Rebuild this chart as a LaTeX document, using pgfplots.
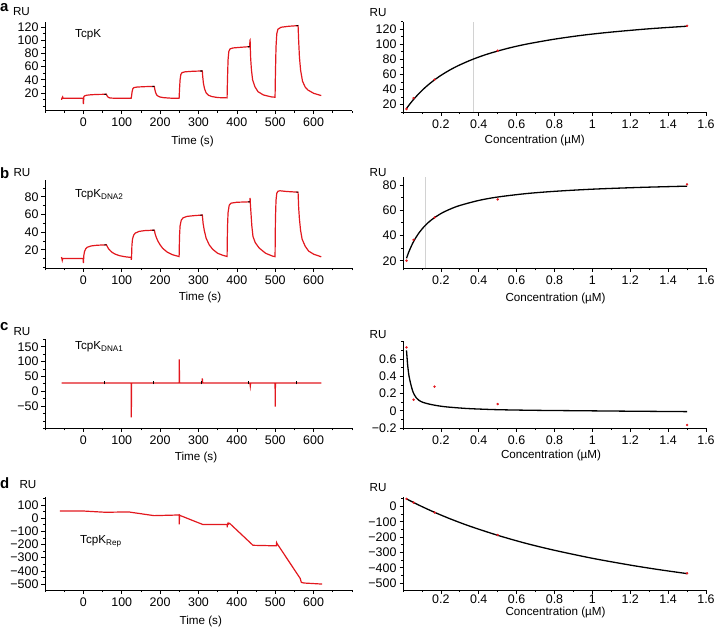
\documentclass[border=0pt]{standalone}
\usepackage{fontspec}
\setmainfont{Liberation Sans}
\usepackage{pgfplots}
\pgfplotsset{compat=1.18}
\definecolor{trace}{RGB}{226,24,30}
\pgfplotsset{
  base/.style={scale only axis, anchor=south west,
    axis x line=bottom, axis y line=left,
    axis line style={-, line width=0.8bp, black},
    tick align=outside, major tick length=3.5bp, minor tick length=2bp,
    every tick/.style={black, line width=0.7bp},
    ticklabel style={font=\fontsize{12.5}{14}\selectfont},
    yticklabel style={xshift=0.5bp},
    xticklabel style={yshift=-0.5bp}},
  Lpanel/.style={base, width=307bp, xmin=-100, xmax=700,
    xtick={0,100,200,300,400,500,600}, xticklabels={0,100,200,300,400,500,600},
    minor xtick={-100,-50,50,150,250,350,450,550,650,700}},
  Rpanel/.style={base, width=303bp, xmin=0, xmax=1.6,
    xtick={0.2,0.4,0.6,0.8,1.0,1.2,1.4,1.6}, xticklabels={0.2,0.4,0.6,0.8,1,1.2,1.4,1.6},
    minor xtick={0,0.1,0.3,0.5,0.7,0.9,1.1,1.3,1.5}},
  tr/.style={trace, line width=1.2bp},
  fit/.style={black, line width=1.3bp, smooth},
  pts/.style={only marks, mark=*, mark size=1bp, trace},
  bk/.style={black, line width=1.1bp, forget plot},
}
\begin{document}
\begin{tikzpicture}
\path[use as bounding box] (0,0) rectangle (716bp,-627bp);
% ---------------- a left
\begin{axis}[Lpanel, at={(45bp,-110.7bp)}, height=88.7bp, ymin=-7, ymax=128,
  ytick={20,40,60,80,100,120}, yticklabels={20,40,60,80,100,120},
  minor ytick={0,10,30,50,70,90,110}]
\addplot[tr] coordinates {(-57,9.5)(-56,12)(-54,14)(-53,12)(-50,11.8)(-20,11.8)(-0.5,11.8)(0,3)(0.5,5)(1,14)(3,15.5)(8,16.5)(20,17.3)(40,17.8)(60,18)
(61,16.5)(63,14.5)(66,13)(70,12.3)(80,12)(100,11.8)(124.5,11.8)
(125.5,15)(127,22)(129,26.5)(132,28.2)(140,29)(160,29.6)(185,30)
(186,26)(188,21)(191,17)(195,15)(200,13.8)(210,12.8)(230,12)(249.5,11.8)
(250.5,25)(252,40)(254,48)(257,51)(265,52.2)(285,53)(310,53.5)
(311,45)(313,34)(316,26)(320,20)(326,16.5)(335,14.5)(350,13)(374.5,12.5)
(375.5,40)(377,70)(379,83)(382,87)(390,88.5)(410,89.5)(433.5,90.5)(434,100)(434.5,100.5)(435,88)
(436,72)(438,55)(441,40)(447,29.5)(455,22)(469,17)(490,14)(499.5,13.5)
(500.5,50)(502,90)(504,110)(507,117)(515,120)(535,121.5)(559.5,122.5)
(561,100)(563,75)(566,55)(571,38)(578,29)(585,24.5)(600,19.5)(620,16)};
\addplot[bk] coordinates {(55,17.9)(60,18)};
\addplot[bk] coordinates {(180,29.9)(185,30)};
\addplot[bk] coordinates {(305,53.4)(310,53.5)};
\addplot[bk] coordinates {(429,90.3)(433.5,90.5)};
\addplot[bk] coordinates {(555,122.4)(559.5,122.5)};
\end{axis}
% ---------------- a right
\begin{axis}[Rpanel, at={(403bp,-112bp)}, height=90.3bp, ymin=10, ymax=130,
  ytick={20,40,60,80,100,120}, yticklabels={20,40,60,80,100,120},
  minor ytick={10,30,50,70,90,110,130}]
\addplot[gray!35, line width=0.9bp] coordinates {(0.37,10)(0.37,130)};
\addplot[fit] coordinates {(0.0185,14.6)(0.03,18.6)(0.05,25.0)(0.075,32.1)(0.1,38.6)(0.13,45.4)(0.16,51.5)(0.2,58.6)(0.25,66.2)(0.3,72.6)(0.37,80.2)(0.45,87.3)(0.55,94.4)(0.65,100.1)(0.8,106.8)(0.95,112.1)(1.1,116.2)(1.3,120.6)(1.5,124.0)};
\addplot[pts] coordinates {(0.0185,14)(0.0556,28.5)(0.1667,53)(0.5,91.5)(1.5,124.5)};
\end{axis}
% ---------------- b left
\begin{axis}[Lpanel, at={(45bp,-268.3bp)}, height=88.3bp, ymin=-1, ymax=99,
  ytick={20,40,60,80}, yticklabels={20,40,60,80},
  minor ytick={0,10,30,50,70,90}]
\addplot[tr] coordinates {(-57,11.8)(-55,8)(-54,10)(-30,10)(-0.5,10)(0,5)(0.5,7)(1,13)(3,18)(6,21)(10,22.8)(20,24.3)(35,25.1)(60,25.6)
(62,24)(65,21.5)(70,19)(75,17)(83,15)(95,13.2)(110,12)(124.5,11.3)(125,8.7)(125.5,11)
(126.5,25)(128,32)(131,36.5)(135,38.8)(145,40.8)(160,41.7)(185,42.2)
(187,38)(190,34)(194,30)(200,25.5)(207,21.5)(218,17.5)(232,14.4)(249.5,12.3)
(250.5,35)(252,47)(255,53.5)(260,56.2)(270,57.8)(290,58.7)(310,59.3)
(312,50)(315,42)(320,33)(328,25.5)(337,20.5)(350,16)(363,13.8)(374.5,12.4)
(375.5,45)(377,62)(380,70.5)(385,72.8)(400,73.8)(434,74.3)(434.5,78.8)(435,73)
(437,60)(439,47)(442,35)(448,28)(458,22)(475,16)(493,12.8)(499.5,12.2)
(500.5,55)(502,76)(504,84)(507,86.2)(512,86.8)(530,86)(559.5,85.2)
(561,68)(563,55)(566,42)(570,32)(578,24)(587,18.5)(600,15)(620,12)};
\addplot[bk] coordinates {(55,25.5)(60,25.6)};
\addplot[bk] coordinates {(180,42.1)(185,42.2)};
\addplot[bk] coordinates {(305,59.2)(310,59.3)};
\addplot[bk] coordinates {(429,74.2)(434,74.3)};
\addplot[bk] coordinates {(555,85.3)(559.5,85.2)};
\end{axis}
% ---------------- b right
\begin{axis}[Rpanel, at={(403bp,-268.3bp)}, height=91bp, ymin=14, ymax=86,
  ytick={20,40,60,80}, yticklabels={20,40,60,80},
  minor ytick={30,50,70}]
\addplot[gray!35, line width=0.9bp] coordinates {(0.12,14)(0.12,86)};
\addplot[fit] coordinates {(0.0185,21.9)(0.03,26.7)(0.045,31.9)(0.06,36.3)(0.08,41.1)(0.1,45.0)(0.12,48.3)(0.15,52.3)(0.2,57.3)(0.25,60.9)(0.3,63.7)(0.4,67.7)(0.5,70.4)(0.65,73.1)(0.8,74.9)(1.0,76.6)(1.25,78.0)(1.5,79.0)};
\addplot[pts] coordinates {(0.0185,20)(0.0556,36.5)(0.1667,54.2)(0.5,68.5)(1.5,80.4)};
\end{axis}
% ---------------- c left
\begin{axis}[Lpanel, at={(45bp,-428.3bp)}, height=89bp, ymin=-125, ymax=175,
  ytick={-50,0,50,100,150}, yticklabels={−50,0,50,100,150},
  minor ytick={-125,-100,-75,-25,25,75,125,175}]
\addplot[tr] coordinates {(-57,28)(124.5,28)(125,-88)(125.5,28)(249.5,28)(250,107)(250.5,28)(309,28)(310,43)(311,28)(434,28)(435,17)(436,28)(499.5,28)(500,-52)(500.5,28)(620,28)};
\addplot[bk] coordinates {(56,23)(56,33)};
\addplot[bk] coordinates {(182,23)(182,33)};
\addplot[bk] coordinates {(307,23)(307,33)};
\addplot[bk] coordinates {(431,23)(431,33)};
\addplot[bk] coordinates {(556,23)(556,33)};
\end{axis}
% ---------------- c right
\begin{axis}[Rpanel, at={(403bp,-428bp)}, height=87.5bp, ymin=-0.2, ymax=0.815,
  ytick={-0.2,0,0.2,0.4,0.6}, yticklabels={−0.2,0,0.2,0.4,0.6},
  minor ytick={-0.1,0.1,0.3,0.5,0.7,0.8}]
\addplot[fit] coordinates {(0.0185,0.70)(0.025,0.52)(0.032,0.40)(0.042,0.30)(0.051,0.23)(0.06,0.185)(0.07,0.15)(0.085,0.12)(0.106,0.097)(0.143,0.075)(0.19,0.056)(0.234,0.044)(0.325,0.028)(0.4,0.02)(0.508,0.012)(0.7,0.005)(0.948,0.0)(1.2,-0.005)(1.5,-0.01)};
\addplot[pts] coordinates {(0.0185,0.735)(0.0556,0.128)(0.1667,0.28)(0.5,0.078)(1.5,-0.165)};
\end{axis}
% ---------------- d left
\begin{axis}[Lpanel, at={(45bp,-590bp)}, height=92.7bp, ymin=-545, ymax=158,
  ytick={-500,-400,-300,-200,-100,0,100}, yticklabels={−500,−400,−300,−200,−100,0,100},
  minor ytick={-450,-350,-250,-150,-50,50,150}]
\addplot[tr] coordinates {(-61,54.4)(0,54)(57,44.6)(118,47)(184,19)(249.5,24)(250,-47)(250.5,24)(253,19)(311,-48)(374.5,-48)(375,-70)(375.5,-48)(377,-38)(378,-45)(381,-39)(442,-206)(503,-210)(503.5,-186)(504.5,-192)(565,-457)(568,-487)(575,-492)(622,-500)};
\end{axis}
% ---------------- d right
\begin{axis}[Rpanel, at={(403bp,-590bp)}, height=92.7bp, ymin=-545, ymax=60,
  ytick={-500,-400,-300,-200,-100,0}, yticklabels={−500,−400,−300,−200,−100,0},
  minor ytick={-450,-350,-250,-150,-50,50},
  xticklabel style={yshift=2.5bp}]
\addplot[fit] coordinates {(0.0185,49.8)(0.0556,26.3)(0.1,-0.5)(0.1667,-38)(0.25,-80.9)(0.35,-127.2)(0.5,-188)(0.65,-240.8)(0.8,-285.8)(1.0,-338)(1.2,-382.4)(1.35,-411.8)(1.5,-438)};
\addplot[pts] coordinates {(0.0185,50)(0.0556,26)(0.1667,-39)(0.5,-186)(1.5,-436)};
\end{axis}
% ---------------- texts
\tikzset{lab/.style={font=\fontsize{11.7}{13}\selectfont, inner sep=0pt}}
\foreach \l/\y in {a/11,b/178,c/330,d/488}
  \node[anchor=base west, inner sep=0pt, font=\bfseries\fontsize{15}{16}\selectfont] at (0bp,-\y bp) {\l};
\foreach \x/\y in {21.5/12,22/173,22/332,28/485,378/12.5,378/173,378/335,378/488}
  \node[lab] at (\x bp,-\y bp) {RU};
\node[lab, anchor=base west] at (75bp,-37.5bp) {TcpK};
\node[lab, anchor=base west] at (75bp,-197.3bp) {TcpK\textsubscript{DNA2}};
\node[lab, anchor=base west] at (75bp,-349.3bp) {TcpK\textsubscript{DNA1}};
\node[lab, anchor=base west] at (80bp,-543.3bp) {TcpK\textsubscript{Rep}};
\foreach \x/\y in {192.5/141,200/297,196/457,200.8/621}
  \node[lab] at (\x bp,-\y bp) {Time (s)};
\foreach \x/\y in {534.7/140,555.5/298,551/455,555.5/612}
  \node[lab] at (\x bp,-\y bp) {Concentration (µM)};
\end{tikzpicture}
\end{document}
